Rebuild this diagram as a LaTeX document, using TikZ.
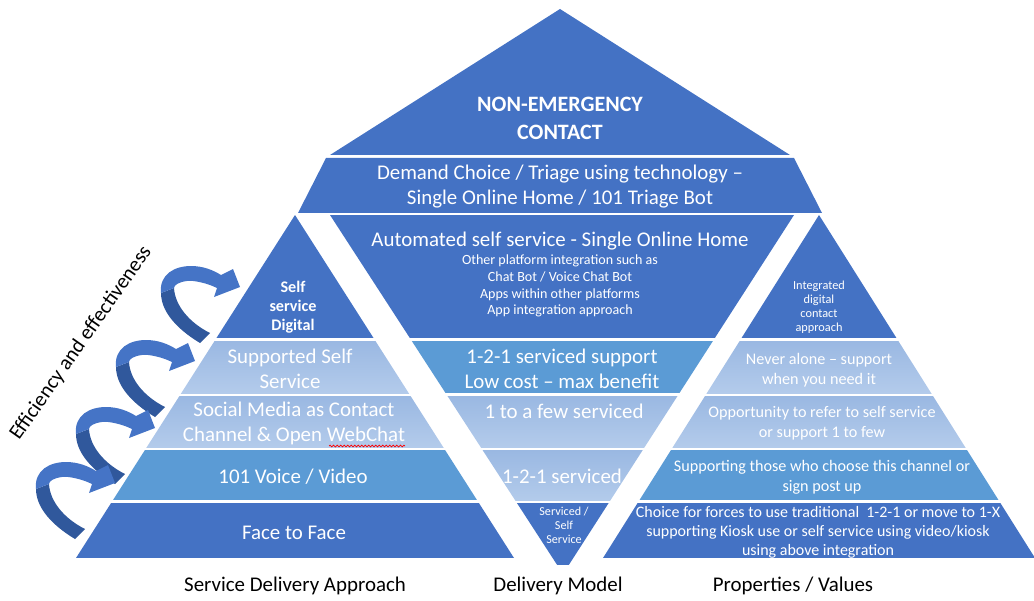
\documentclass[tikz,border=0pt]{standalone}
\usepackage{fontspec}
\setmainfont{Carlito}
\usepackage{tikz}
\usetikzlibrary{decorations.pathmorphing}
\definecolor{deepblue}{HTML}{4472C4}
\definecolor{midblue}{HTML}{5B9BD5}
\definecolor{paletop}{HTML}{9AB8E2}
\definecolor{palebot}{HTML}{B3CBEB}
\definecolor{curlback}{HTML}{30589C}
\definecolor{curlfront}{HTML}{4574C6}

\begin{document}
\begin{tikzpicture}[x=0.02cm, y=-0.02cm, every node/.style={text=white, align=center, inner sep=0pt},
	deep/.style={fill=deepblue}, mid/.style={fill=midblue}, pale/.style={top color=paletop, bottom color=palebot},
	head/.style={font=\fontsize{12.5}{15.9}\bfseries\selectfont},
	big/.style={font=\fontsize{11.9}{14.2}\selectfont},
	small/.style={font=\fontsize{9.2}{11.2}\selectfont},
	tiny/.style={font=\fontsize{8}{9.6}\selectfont},
	caption/.style={text=black, font=\fontsize{11.9}{14}\selectfont},
	curl/.pic={
		\fill[curlback] (-24,27) .. controls (-24,50) and (0,68) .. (15,77) -- (25,67) .. controls (5,57) and (-10,40) .. (-11,22) -- cycle;
		\fill[curlfront] (-24,27) .. controls (-26,8) and (-10,0) .. (6,0) .. controls (18,0) and (28,4) .. (36,9) -- (48,3) -- (55,21) -- (29,31) -- (32,22) .. controls (22,17) and (8,14) .. (2,15) .. controls (-6,16) and (-11,19) .. (-11,22) -- cycle;
	}]
	\useasboundingbox (0,0) rectangle (1034,601);
	% top of the pyramid
	\fill[deep] (560,9) -- (790,155) -- (330,155) -- cycle;
	\fill[deep] (326,158) -- (794,158) -- (822,213) -- (298,213) -- cycle;
	% three columns share the bands, colours per column
	\begin{scope}
		\clip (295,215) -- (514,558) -- (76,558) -- cycle;
		\foreach \ya/\yb/\s in {215/338/deep, 341/393/pale, 396/447/pale, 450/500/mid, 503/558/deep} {\path[\s] (0,\ya) rectangle (1034,\yb);}
	\end{scope}
	\begin{scope}
		\clip (330,215) -- (794,215) -- (563,574) -- cycle;
		\foreach \ya/\yb/\s in {215/338/deep, 341/393/mid, 396/447/pale, 450/500/pale, 503/565/deep} {\path[\s] (0,\ya) rectangle (1034,\yb);}
	\end{scope}
	\begin{scope}
		\clip (819,215) -- (1035,558) -- (603,558) -- cycle;
		\foreach \ya/\yb/\s in {215/338/deep, 341/393/pale, 396/447/pale, 450/500/mid, 503/558/deep} {\path[\s] (0,\ya) rectangle (1034,\yb);}
	\end{scope}
	% curled arrows up the left side
	\foreach \x/\y in {185/266, 140/340, 100/407, 60/462} {\pic at (\x,\y) {curl};}

	\node[head] (nec) at (560,118) {NON-EMERGENCY\\CONTACT};
	\node[big] (triage) at (560,187) {Demand Choice / Triage using technology --\\Single Online Home / 101 Triage Bot};
	% left column
	\node[font=\fontsize{9.2}{10.8}\bfseries\selectfont] (digital) at (293,307) {Self\\service\\Digital};
	\node[big] (supported) at (290,369) {Supported Self\\Service};
	\node[big] (social) at (294,423) {Social Media as Contact\\Channel \& Open WebChat};
	\draw[red, line width=0.4pt, decorate, decoration={snake, amplitude=0.5pt, segment length=2pt}] (329,446) -- (405,446);
	\node[big] (voice) at (293,477) {101 Voice / Video};
	\node[big] (face) at (294,533) {Face to Face};
	% middle column
	\node[big] (auto) at (560,241) {Automated self service - Single Online Home};
	\node[tiny] (autosub) at (560,286) {Other platform integration such as\\Chat Bot / Voice Chat Bot\\Apps within other platforms\\App integration approach};
	\node[big] (support) at (562,369) {1-2-1 serviced support\\Low cost -- max benefit};
	\node[big] (few) at (564,411) {1 to a few serviced};
	\node[big] (serviced) at (562,476) {1-2-1 serviced};
	\node[font=\fontsize{6.9}{8}\selectfont] (selfserv) at (564,525) {Serviced /\\Self\\Service};
	% right column
	\node[font=\fontsize{7}{8}\selectfont] (integrated) at (819,307) {Integrated\\digital\\contact\\approach};
	\node[small] (never) at (819,370) {Never alone -- support\\when you need it};
	\node[small] (refer) at (822,423) {Opportunity to refer to self service\\or support 1 to few};
	\node[small] (channel) at (822,477) {Supporting those who choose this channel or\\sign post up};
	\node[font=\fontsize{9.1}{10.8}\selectfont] (choice) at (818,532) {Choice for forces to use traditional\ \ 1-2-1 or move to 1-X\\supporting Kiosk use or self service using video/kiosk\\using above integration};

	\node[caption] (approach) at (295,586) {Service Delivery Approach};
	\node[caption] (model) at (558,586) {Delivery Model};
	\node[caption] (values) at (793,586) {Properties / Values};
	\node[caption, rotate=55] (eff) at (81,343) {Efficiency and effectiveness};
\end{tikzpicture}
\end{document}
